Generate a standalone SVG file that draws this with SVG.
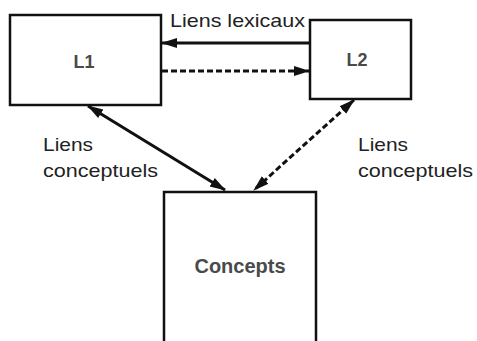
<svg xmlns="http://www.w3.org/2000/svg" width="477" height="341" viewBox="0 0 477 341">
  <style>
    .box { fill: #ffffff; stroke: #111; stroke-width: 2.5; }
    .lbl { font-family: "Liberation Sans", Arial, sans-serif; font-weight: bold; fill: #4a4a4a; text-anchor: middle; }
    .txt { font-family: "Liberation Sans", Arial, sans-serif; font-size: 19px; fill: #222; }
    .ln { stroke: #111; stroke-width: 3; fill: none; }
    .dash { stroke-dasharray: 6 3; }
  </style>
  <defs>
    <marker id="ah" markerUnits="userSpaceOnUse" markerWidth="16" markerHeight="12" refX="15" refY="5" orient="auto-start-reverse" viewBox="0 0 16 10">
      <path d="M0,0 L16,5 L0,10 Z" fill="#111"/>
    </marker>
  </defs>
  <rect width="477" height="341" fill="#ffffff"/>
  <g id="L1">
    <rect class="box" x="10" y="15" width="151" height="90"/>
    <text class="lbl" x="84" y="68" font-size="18">L1</text>
  </g>
  <g id="L2">
    <rect class="box" x="310" y="20" width="101" height="79"/>
    <text class="lbl" x="357" y="66" font-size="18">L2</text>
  </g>
  <g id="Concepts">
    <rect class="box" x="164" y="192" width="152" height="155"/>
    <text class="lbl" x="240" y="273" font-size="20">Concepts</text>
  </g>
  <g id="connectors">
    <line class="ln" x1="310" y1="43" x2="162" y2="43" marker-end="url(#ah)"/>
    <line class="ln dash" x1="162" y1="71" x2="309" y2="71" marker-end="url(#ah)"/>
    <line class="ln" x1="88" y1="106" x2="225" y2="190" marker-start="url(#ah)" marker-end="url(#ah)"/>
    <line class="ln dash" x1="354" y1="100" x2="254" y2="190" marker-start="url(#ah)" marker-end="url(#ah)"/>
  </g>
  <g id="labels">
    <text class="txt" x="170" y="27" textLength="135" lengthAdjust="spacingAndGlyphs">Liens lexicaux</text>
    <text class="txt" x="43" y="151" textLength="50" lengthAdjust="spacingAndGlyphs">Liens</text>
    <text class="txt" x="43" y="177" textLength="115" lengthAdjust="spacingAndGlyphs">conceptuels</text>
    <text class="txt" x="358" y="151" textLength="50" lengthAdjust="spacingAndGlyphs">Liens</text>
    <text class="txt" x="358" y="177" textLength="115" lengthAdjust="spacingAndGlyphs">conceptuels</text>
  </g>
</svg>
